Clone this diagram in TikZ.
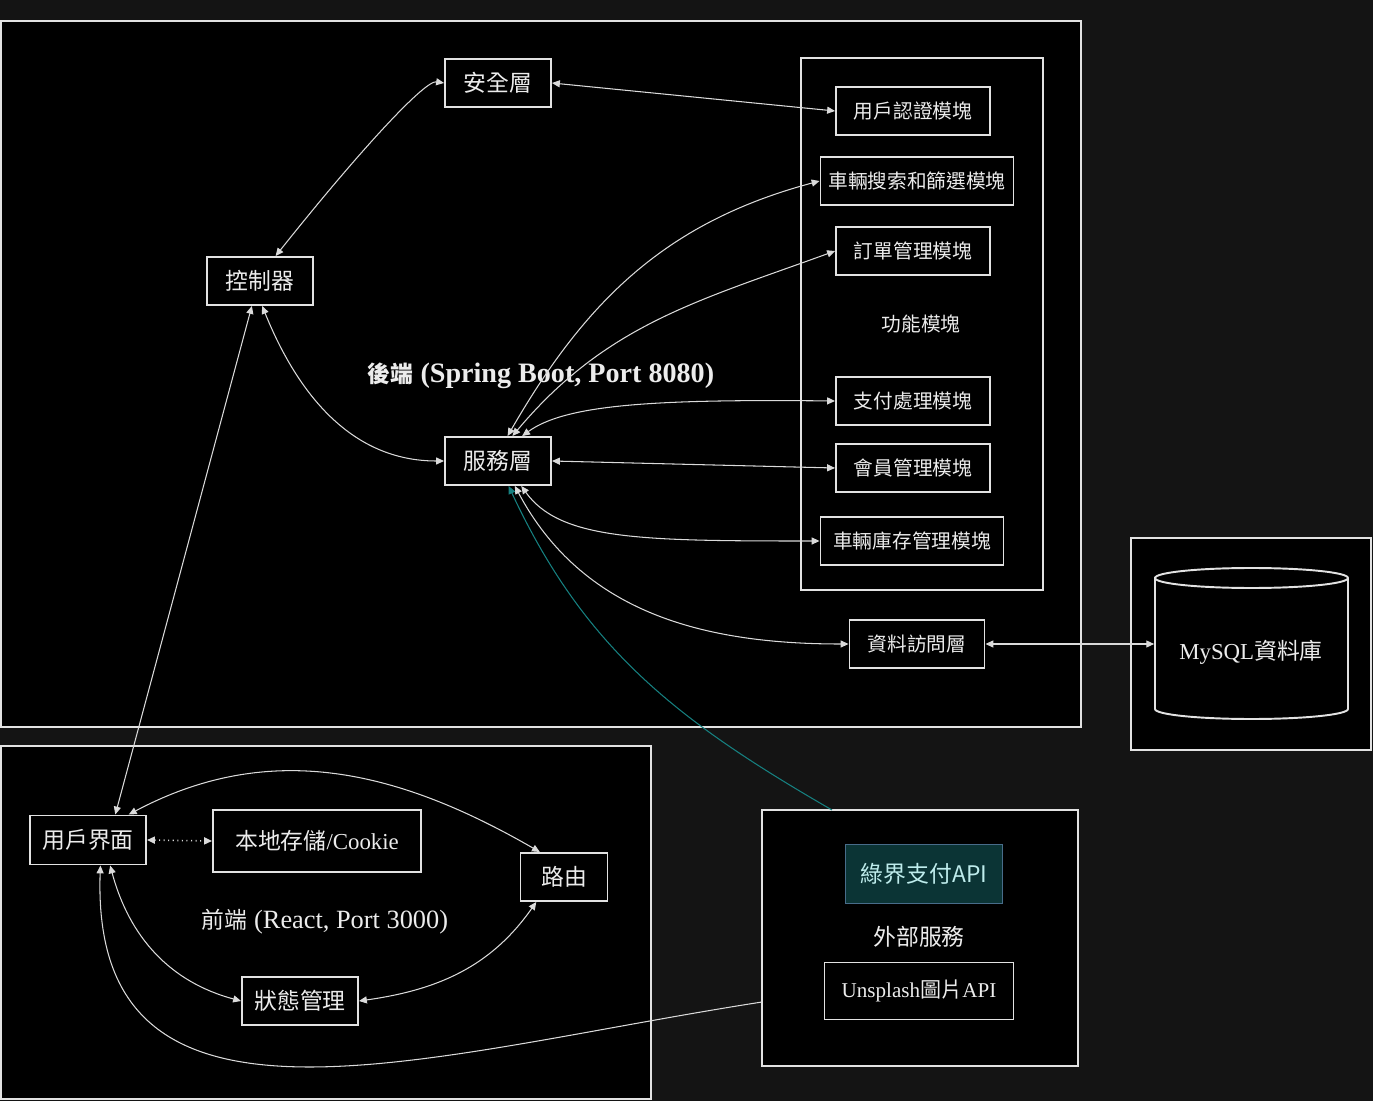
\documentclass[tikz,border=0pt]{standalone}
\usepackage{fontspec}
\setmainfont{Liberation Serif}
\newfontfamily\cjk{Noto Sans CJK TC}
\usepackage{xcolor}
\usetikzlibrary{calc, positioning, arrows.meta}
\definecolor{bgc}{RGB}{20,20,20}
\definecolor{linec}{RGB}{218,218,218}
\definecolor{boxc}{RGB}{226,226,226}
\definecolor{txtc}{RGB}{236,236,236}
\definecolor{tealc}{RGB}{22,128,128}
\definecolor{payfill}{RGB}{11,52,53}
\definecolor{payline}{RGB}{72,108,138}
\definecolor{paytxt}{RGB}{190,236,236}

\begin{document}
\begin{tikzpicture}[x = 0.02cm, y = -0.02cm,
  grp/.style={draw = boxc, fill = black, line width = 1.1pt},
  blk/.style={draw = boxc, fill = black, line width = 1.1pt, text = txtc, inner sep = 0pt, font = \cjk\fontsize{13}{15}\selectfont},
  lay/.style={blk, minimum width = 2.12cm, minimum height = 0.96cm},
  modl/.style={blk, font = \cjk\fontsize{11.2}{13}\selectfont, minimum height = 0.96cm},
  lbl/.style={text = txtc, inner sep = 0pt},
  lnk/.style={draw = linec, line width = 0.6pt, {Triangle[length = 4.5pt, width = 4pt]}-{Triangle[length = 4.5pt, width = 4pt]}},
  one/.style={draw = linec, line width = 0.6pt, -{Triangle[length = 4.5pt, width = 4pt]}}]
\fill[bgc] (0,0) rectangle (1373,1101);
\useasboundingbox (0,0) rectangle (1373,1101);

\draw[grp] (1,21) rectangle (1081,727);
\draw[grp] (801,58) rectangle (1043,590);
\draw[grp] (1,746) rectangle (651,1099);
\draw[grp] (762,810) rectangle (1078,1066);
\draw[grp] (1131,538) rectangle (1371,750);

\draw[grp] (1155,578) -- (1155,709) arc[start angle = 180, end angle = 360, x radius = 1.93cm, y radius = 0.2cm] -- (1348,578) arc[start angle = 0, end angle = 180, x radius = 1.93cm, y radius = 0.2cm] -- cycle;
\draw[draw = boxc, line width = 1.1pt] (1155,578) arc[start angle = 180, end angle = 360, x radius = 1.93cm, y radius = 0.2cm];

\node[lay] (sec) at (498,83) {安全層};
\node[lay] (ctl) at (260,281) {控制器};
\node[lay] (svc) at (498,461) {服務層};
\node[lbl, font = \bfseries\fontsize{16}{18}\selectfont] (be) at (541,376) {{\cjk\fontsize{13}{15}\selectfont 後端} (Spring Boot, Port 8080)};

\node[modl, minimum width = 3.08cm] (auth) at (913,111) {用戶認證模塊};
\node[modl, minimum width = 3.86cm] (srch) at (917,181) {車輛搜索和篩選模塊};
\node[modl, minimum width = 3.08cm] (ord) at (913,251) {訂單管理模塊};
\node[lbl, font = \cjk\fontsize{11.2}{13}\selectfont] (fm) at (921,324) {功能模塊};
\node[modl, minimum width = 3.08cm] (pay) at (913,401) {支付處理模塊};
\node[modl, minimum width = 3.08cm] (mem) at (913,468) {會員管理模塊};
\node[modl, minimum width = 3.66cm] (inv) at (912,541) {車輛庫存管理模塊};
\node[modl, minimum width = 2.7cm] (dao) at (917,644) {資料訪問層};

\node[lbl, minimum width = 3.86cm, minimum height = 2.6cm, font = \fontsize{13}{15}\selectfont] (db) at (1251,652) {MySQL{\cjk 資料庫}};

\node[blk, minimum width = 2.32cm, minimum height = 0.98cm] (ui) at (88,840) {用戶界面};
\node[blk, minimum width = 4.16cm, minimum height = 1.24cm] (ls) at (317,841) {本地存儲{\rmfamily /Cookie}};
\node[blk, minimum width = 1.74cm, minimum height = 0.96cm] (rt) at (564,877) {路由};
\node[blk, minimum width = 2.32cm, minimum height = 0.96cm] (st) at (300,1001) {狀態管理};
\node[lbl, font = \fontsize{15}{17}\selectfont] (fe) at (325,922) {{\cjk\fontsize{13}{15}\selectfont 前端} (React, Port 3000)};

\node[blk, draw = payline, fill = payfill, text = paytxt, minimum width = 3.14cm, minimum height = 1.18cm] (ecp) at (924,874) {綠界支付API};
\node[lbl, font = \cjk\fontsize{13}{15}\selectfont] (ext) at (919,937) {外部服務};
\node[blk, font = \fontsize{12}{14}\selectfont, minimum width = 3.78cm, minimum height = 1.14cm] (uns) at (919,991) {Unsplash{\cjk 圖片}API};
\coordinate (payout) at (832,810);
\coordinate (unsout) at (762,1002);

\draw[lnk] (sec.west) .. controls (425,80) and (360,150) .. (ctl.58);
\draw[lnk] (sec.east) -- (auth.west);
\draw[lnk] (ctl.-85) to[out = -68, in = 180] (svc.west);
\draw[lnk] (ctl.-108) -- (ui.43);
\draw[lnk] (svc.69) to[out = 60, in = 195] (srch.west);
\draw[lnk] (svc.60) to[out = 50, in = 200] (ord.west);
\draw[lnk] (svc.46) .. controls (565,405) and (650,399) .. (pay.west);
\draw[lnk] (svc.east) -- (mem.west);
\draw[lnk] (svc.-47) .. controls (560,540) and (640,541) .. (inv.west);
\draw[lnk] (svc.-56) to[out = -62, in = 180] (dao.west);
\draw[lnk] (dao.east) -- (dao.east -| db.west);
\draw[draw = tealc, line width = 0.6pt, -{Triangle[length = 4.5pt, width = 4pt]}] (payout) to[out = 150, in = -65] (svc.-67);
\draw[one] (unsout) .. controls (420,1055) and (90,1165) .. (ui.-64);
\draw[lnk] (ui.32) to[out = 28, in = 150] (rt.134);
\draw[lnk, dotted, line width = 0.9pt] (ui.east) -- (ls.west);
\draw[lnk] (ui.-49) to[out = -75, in = 165] (st.west);
\draw[lnk] (st.east) to[out = 8, in = -125] (rt.-138);
\end{tikzpicture}
\end{document}
